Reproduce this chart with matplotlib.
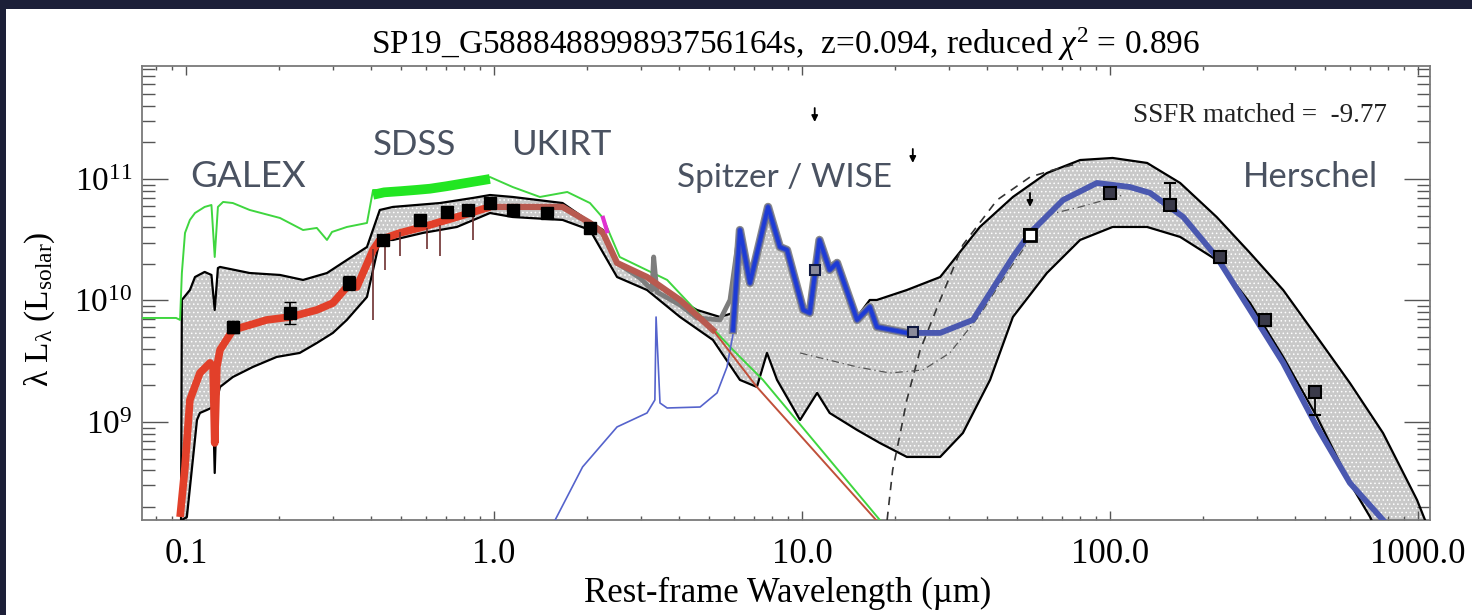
import numpy as np
import matplotlib
matplotlib.use("Agg")
import matplotlib.pyplot as plt
from matplotlib.patches import Rectangle
from matplotlib.ticker import FixedLocator, FixedFormatter, LogLocator, NullFormatter

plt.rcParams['font.family'] = ['Liberation Serif', 'DejaVu Serif']
plt.rcParams['mathtext.fontset'] = 'custom'
plt.rcParams['mathtext.rm'] = 'Liberation Serif'
plt.rcParams['mathtext.it'] = 'Liberation Serif:italic'
plt.rcParams['mathtext.bf'] = 'Liberation Serif:bold'
plt.rcParams['hatch.linewidth'] = 0.6

# ---------------------------------------------------------------------------
# SED of SP19_G588848899893756164s  (wavelength in micron, log10 lambda*L_lambda in L_sun)
# ---------------------------------------------------------------------------
obj_name = "SP19_G588848899893756164s"
redshift = 0.094
chi2_red = 0.896
ssfr = -9.77

# unattenuated stellar spectrum
green_wave = [0.072, 0.0929, 0.0957, 0.097, 0.0993, 0.103, 0.107, 0.115, 0.121, 0.124,
              0.127, 0.132, 0.142, 0.161, 0.202, 0.240, 0.266, 0.287, 0.298, 0.333,
              0.387, 0.405, 0.495, 0.668, 0.836, 0.971, 1.15, 1.41, 1.73, 2.05,
              2.26, 2.56, 3.65, 5.97, 7.47, 17.9]
green_logL = [9.856, 9.856, 9.840, 10.226, 10.556, 10.663, 10.720, 10.770, 10.786, 10.358,
              10.770, 10.811, 10.802, 10.745, 10.679, 10.580, 10.597, 10.498, 10.564, 10.605,
              10.638, 10.909, 10.909, 10.942, 10.967, 11.016, 10.934, 10.852, 10.893, 10.802,
              10.679, 10.358, 10.169, 9.593, 9.346, 8.193]
# dense optical part of the unattenuated spectrum
green_opt_wave = [0.405, 0.44, 0.50, 0.56, 0.62, 0.70, 0.78, 0.87, 0.97]
green_opt_logL = [10.87, 10.89, 10.90, 10.91, 10.92, 10.94, 10.96, 10.98, 11.00]

# best-fit attenuated stellar model
red_wave = [0.0957, 0.0993, 0.103, 0.111, 0.1197, 0.1225, 0.124, 0.126, 0.129, 0.142,
            0.183, 0.218, 0.266, 0.300, 0.333, 0.359, 0.405, 0.426, 0.495, 0.588,
            0.758, 0.971, 1.15, 1.67, 2.05, 2.26, 2.51, 3.14, 4.02, 5.14, 7.14, 17.4]
red_logL = [8.218, 8.630, 9.181, 9.403, 9.486, 9.453, 8.827, 9.453, 9.593, 9.757,
            9.840, 9.864, 9.922, 9.979, 10.111, 10.111, 10.416, 10.498, 10.556, 10.605,
            10.687, 10.770, 10.770, 10.770, 10.638, 10.556, 10.309, 10.193, 10.004, 9.757, 9.288, 8.193]

# absorption features of the stellar model (wavelength, continuum, line floor)
line_wave = [0.405, 0.443, 0.495, 0.606, 0.668, 0.855]
line_top = [10.42, 10.52, 10.56, 10.60, 10.62, 10.70]
line_floor = [9.84, 10.25, 10.37, 10.42, 10.37, 10.50]

# range of acceptable models: upper and lower envelopes
up_wave = [0.0964, 0.097, 0.103, 0.107, 0.115, 0.121, 0.124, 0.127, 0.129, 0.161,
           0.202, 0.240, 0.287, 0.333, 0.387, 0.426, 0.470, 0.668, 0.855, 0.971,
           1.15, 1.67, 2.05, 2.26, 2.51, 3.14, 3.65, 4.56, 5.42, 5.97,
           6.29, 6.78, 7.76, 8.48, 8.94, 10.1, 10.6, 11.4, 12.3, 13.0,
           15.1, 16.6, 17.5, 21.9, 28.1, 37.8, 48.4, 62.4, 80.0, 102,
           132, 169, 222, 285, 365, 470, 601, 770, 993, 1054, 1200]
up_logL = [8.193, 10.004, 10.086, 10.193, 10.235, 10.210, 9.922, 10.267, 10.276, 10.226,
           10.210, 10.169, 10.226, 10.333, 10.440, 10.745, 10.770, 10.802, 10.844, 10.868,
           10.852, 10.802, 10.646, 10.580, 10.309, 10.193, 10.062, 9.922, 9.864, 9.897,
           10.580, 10.144, 10.786, 10.440, 10.416, 9.947, 9.922, 10.523, 10.292, 10.333,
           9.864, 10.004, 10.004, 10.086, 10.193, 10.605, 10.852, 11.049, 11.156, 11.173,
           11.132, 10.967, 10.687, 10.391, 10.086, 9.700, 9.321, 8.909, 8.358, 8.193, 7.9]
low_wave = [0.097, 0.1007, 0.1086, 0.111, 0.117, 0.1225, 0.124, 0.126, 0.129, 0.142,
            0.165, 0.197, 0.234, 0.266, 0.300, 0.333, 0.387, 0.426, 0.470, 0.588,
            0.758, 0.971, 1.15, 1.67, 2.05, 2.51, 3.14, 4.02, 5.14, 6.29,
            7.14, 7.70, 8.30, 9.86, 11.2, 12.3, 15.1, 17.9, 21.9, 28.1,
            33.3, 40.8, 48.4, 62.4, 80.0, 102, 132, 169, 222, 285,
            365, 470, 601, 699, 731]
low_logL = [8.193, 8.218, 9.016, 9.074, 9.099, 9.123, 8.580, 9.181, 9.288, 9.370,
            9.453, 9.535, 9.568, 9.650, 9.733, 9.840, 10.029, 10.498, 10.498, 10.556,
            10.605, 10.720, 10.687, 10.663, 10.580, 10.193, 10.086, 9.864, 9.675, 9.346,
            9.288, 9.568, 9.346, 9.016, 9.239, 9.074, 8.934, 8.827, 8.712, 8.712,
            8.909, 9.346, 9.864, 10.226, 10.498, 10.605, 10.605, 10.523, 10.333, 9.979,
            9.535, 9.041, 8.498, 8.218, 8.111]

# best-fit dust emission (PAH + thermal)
blue_wave = [5.97, 6.29, 6.78, 7.76, 8.48, 8.94, 10.1, 10.6, 11.4, 12.3,
             13.0, 15.1, 16.6, 17.5, 21.9, 28.1, 35.9, 48.4, 55.0, 70.4,
             90.7, 116, 135, 173, 222, 285, 365, 470, 601, 770, 900]
blue_logL = [9.757, 10.580, 10.144, 10.770, 10.440, 10.416, 9.922, 9.897, 10.498, 10.251,
             10.309, 9.840, 9.947, 9.782, 9.733, 9.733, 9.840, 10.358, 10.556, 10.827,
             10.967, 10.934, 10.885, 10.687, 10.358, 9.922, 9.486, 8.959, 8.498, 8.193, 7.95]
# short-wavelength tail of the dust model (3.3 micron PAH feature)
tblue_wave = [1.58, 1.94, 2.51, 3.14, 3.33, 3.36, 3.46, 3.65, 4.67, 5.30, 5.71, 6.05]
tblue_logL = [8.193, 8.630, 8.959, 9.074, 9.181, 9.864, 9.156, 9.115, 9.123, 9.239, 9.453, 9.80]
# total model in the stellar/dust transition
grey_wave = [2.51, 2.98, 3.26, 3.30, 3.38, 4.02, 4.56, 5.42, 5.84, 6.15, 6.29]
grey_logL = [10.309, 10.185, 10.086, 10.358, 10.070, 9.963, 9.856, 9.840, 10.004, 10.416, 10.564]

# cold dust component (dashed) and warm component (dash-dot)
cold_wave = [18.9, 19.7, 20.8, 21.9, 24.2, 28.1, 33.3, 43.0, 55.0, 65.3, 80.0]
cold_logL = [8.193, 8.605, 8.893, 9.181, 9.593, 10.004, 10.457, 10.827, 11.016, 11.074, 11.132]
warm_wave = [9.86, 15.1, 19.3, 24.7, 30.2, 37.8, 47.0, 62.4, 80.0, 110]
warm_logL = [9.568, 9.453, 9.403, 9.428, 9.568, 9.881, 10.251, 10.704, 10.770, 10.868]

# photometry: GALEX, SDSS, UKIRT
phot_wave = [0.142, 0.218, 0.338, 0.436, 0.575, 0.704, 0.824, 0.971, 1.15, 1.49, 2.05]
phot_logL = [9.782, 9.897, 10.144, 10.498, 10.663, 10.728, 10.745, 10.802, 10.745, 10.720, 10.597]
phot_err = [0.05, 0.09, 0.06, 0.04, 0.03, 0.03, 0.03, 0.02, 0.02, 0.02, 0.02]
# Spitzer / WISE
mir_wave = [11.0, 22.9]
mir_logL = [10.251, 9.741]
# IRAS / Herschel
fir_wave = [55.0, 100, 157, 228, 319, 463]
fir_logL = [10.539, 10.885, 10.786, 10.358, 9.840, 9.247]
fir_err_lo = [0.03, 0.04, 0.04, 0.05, 0.05, 0.19]
fir_err_hi = [0.03, 0.04, 0.18, 0.05, 0.05, 0.04]
# upper limits (arrow tip)
lim_wave = [11.0, 22.9, 55.0]
lim_logL = [11.469, 11.132, 10.770]

xtick_vals = [0.1, 1.0, 10.0, 100.0, 1000.0]
xtick_labels = ['0.1', '1.0', '10.0', '100.0', '1000.0']
ytick_vals = [1e9, 1e10, 1e11]
ytick_labels = ['$10^{9}$', '$10^{10}$', '$10^{11}$']

survey_labels = ['GALEX', 'SDSS', 'UKIRT', 'Spitzer / WISE', 'Herschel']
survey_wave = [0.103, 0.405, 1.14, 3.93, 270]
survey_lum = [8.6e10, 1.58e11, 1.58e11, 8.6e10, 8.6e10]
survey_size = [26.5, 25, 25, 24, 25]


def lum(a):
    return 10.0 ** np.asarray(a, dtype=float)


W, H = 1472, 615
fig = plt.figure(figsize=(W / 100, H / 100), dpi=100)
fig.patch.set_facecolor('#1c1f38')
fig.add_artist(Rectangle((6 / W, 0), 1, 1 - 9 / H, transform=fig.transFigure,
                         facecolor='white', edgecolor='none', zorder=-10))

ax = fig.add_axes([142 / W, 1 - 520 / H, 1288 / W, 454 / H])
ax.set_xscale('log')
ax.set_yscale('log')
ax.set_xlim(0.072, 1094)
ax.set_ylim(10 ** 8.193, 10 ** 11.93)

# model envelope
poly_x = np.concatenate([up_wave, low_wave[::-1]])
poly_y = np.concatenate([lum(up_logL), lum(low_logL)[::-1]])
ax.fill(poly_x, poly_y, facecolor='#c9c9c9', edgecolor='white', hatch='....',
        linewidth=0, zorder=1)
ax.plot(up_wave, lum(up_logL), color='black', lw=1.6, zorder=3)
ax.plot(low_wave, lum(low_logL), color='black', lw=1.6, zorder=3)

# dust components
ax.plot(cold_wave, lum(cold_logL), color='#333333', lw=1.2, ls=(0, (5, 4)), zorder=4)
ax.plot(warm_wave, lum(warm_logL), color='#555555', lw=0.9, ls=(0, (6, 3, 1, 3)), zorder=4)

# unattenuated stars
ax.plot(green_wave, lum(green_logL), color='#3fd63f', lw=1.4, zorder=5)
ax.plot(green_opt_wave, lum(green_opt_logL), color='#22e622', lw=7, zorder=5,
        solid_capstyle='butt')

# dust model
ax.plot(tblue_wave, lum(tblue_logL), color='#5563cc', lw=1.2, zorder=5)
ax.plot(grey_wave, lum(grey_logL), color='#7d7d7d', lw=3.5, zorder=5)
ax.plot(blue_wave[:15], lum(blue_logL[:15]), color='#8a8a8a', lw=6, zorder=5)
ax.plot(blue_wave, lum(blue_logL), color='#4a58b0', lw=4.2, zorder=6)
ax.plot(blue_wave[:15], lum(blue_logL[:15]), color='#1d3bd6', lw=2.6, zorder=6)

# attenuated stars
red_wave_a = np.asarray(red_wave)
red_l = lum(red_logL)
uv = red_wave_a <= 0.98
nir = (red_wave_a >= 0.97) & (red_wave_a <= 5.2)
mid = red_wave_a >= 5.1
ax.plot(red_wave_a[uv], red_l[uv], color='#e2402a', lw=5.5, zorder=6, solid_capstyle='butt')
ax.plot(red_wave_a[nir], red_l[nir], color='#b85a50', lw=4.5, zorder=6)
ax.plot(red_wave_a[mid], red_l[mid], color='#c0503a', lw=1.4, zorder=6)
ax.vlines(line_wave, lum(line_floor), lum(line_top), color='#6e3030', lw=1.2, zorder=6)
ax.plot([2.26, 2.33], [10 ** 10.68, 10 ** 10.57], color='#e030d0', lw=3, zorder=7)

# photometry
pl = lum(phot_logL)
pe = np.asarray(phot_err)
ax.errorbar(phot_wave, pl, yerr=[pl - pl / 10 ** pe, pl * 10 ** pe - pl], fmt='s',
            ms=9, mfc='black', mec='black', ecolor='black', elinewidth=1.3, capsize=4, zorder=8)
ax.plot(mir_wave, lum(mir_logL), 's', ms=7.5, mfc='#8a8a9a', mec='#101840', mew=1.5, zorder=8)
fl = lum(fir_logL)
ax.errorbar(fir_wave, fl, yerr=[fl - fl / 10 ** np.asarray(fir_err_lo),
                                fl * 10 ** np.asarray(fir_err_hi) - fl],
            fmt='s', ms=8.5, mfc='#3a3a4a', mec='black', mew=1.5, ecolor='black',
            elinewidth=1.3, capsize=4, zorder=8)
ax.plot(fir_wave[:1], fl[:1], 's', ms=8.5, mfc='white', mec='black', mew=2, zorder=9)
for w, lt in zip(lim_wave, lim_logL):
    ax.annotate('', xy=(w, 10 ** lt), xytext=(w, 10 ** (lt + 0.115)),
                arrowprops=dict(arrowstyle='-|>', color='black', lw=1.3,
                                mutation_scale=9, shrinkA=0, shrinkB=0), zorder=9)

# axes styling
for s in ax.spines.values():
    s.set_color('#7a7a7a')
    s.set_linewidth(1.3)
ax.xaxis.set_major_locator(FixedLocator(xtick_vals))
ax.xaxis.set_major_formatter(FixedFormatter(xtick_labels))
ax.xaxis.set_minor_locator(LogLocator(base=10, subs=np.arange(2, 10), numticks=30))
ax.xaxis.set_minor_formatter(NullFormatter())
ax.yaxis.set_major_locator(FixedLocator(ytick_vals))
ax.yaxis.set_major_formatter(FixedFormatter(ytick_labels))
ax.yaxis.set_minor_locator(LogLocator(base=10, subs=np.arange(2, 10), numticks=30))
ax.yaxis.set_minor_formatter(NullFormatter())
ax.tick_params(axis='x', which='major', direction='in', length=6.5, width=1.0,
               color='#555555', top=True, bottom=True, pad=13, labelsize=25)
ax.tick_params(axis='x', which='minor', direction='in', length=3.2, width=1.0,
               color='#555555', top=True, bottom=True)
ax.tick_params(axis='y', which='major', direction='in', length=18.5, width=1.0,
               color='#555555', left=True, right=True, pad=7, labelsize=24)
ax.tick_params(axis='y', which='minor', direction='in', length=9.3, width=1.0,
               color='#555555', left=True, right=True)

ax.set_title(f'{obj_name},  z={redshift:.3f}, reduced $\\chi^2$ = {chi2_red:.3f}',
             fontsize=24, pad=9)
ax.set_xlabel('Rest-frame Wavelength (µm)', fontsize=25, va='center')
ax.xaxis.set_label_coords(0.5015, -0.161)
ax.set_ylabel('λ L$_\\mathrm{λ}$ (L$_\\mathrm{solar}$)', fontsize=24, va='center')
ax.yaxis.set_label_coords(-0.079, 0.465)

ax.text(793, 10 ** 11.469, f'SSFR matched =  {ssfr:.2f}', fontsize=19.5, ha='right',
        va='baseline', color='#222222')

for txt, w, l, fs in zip(survey_labels, survey_wave, survey_lum, survey_size):
    ax.text(w, l, txt, fontsize=fs, family=['Lato', 'DejaVu Sans'], color='#4a5261',
            ha='left', va='baseline', zorder=10)

fig.savefig('out.png', dpi=100, facecolor=fig.get_facecolor())
